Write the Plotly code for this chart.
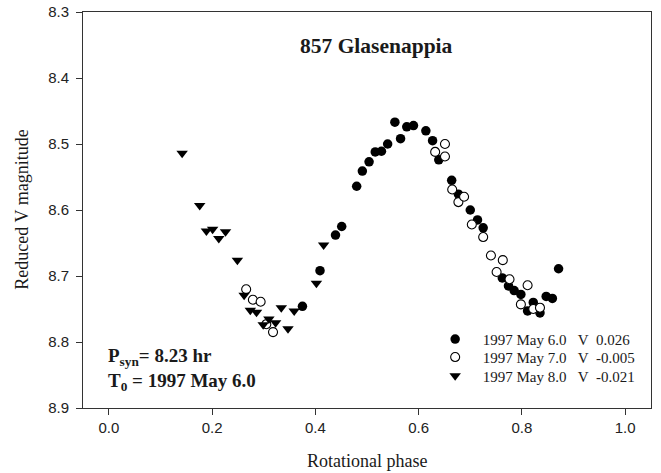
import plotly.graph_objects as go

# May 6.0 (filled circles)
phase_may6 = [0.375, 0.409, 0.439, 0.451, 0.480, 0.491, 0.504, 0.516, 0.528, 0.540,
              0.554, 0.565, 0.577, 0.590, 0.614, 0.627, 0.639, 0.664, 0.677, 0.700,
              0.714, 0.725, 0.762, 0.774, 0.785, 0.798, 0.811, 0.822, 0.835, 0.847,
              0.859, 0.871]
mag_may6 = [8.746, 8.692, 8.638, 8.625, 8.564, 8.541, 8.527, 8.512, 8.511, 8.500,
            8.467, 8.492, 8.474, 8.472, 8.480, 8.495, 8.524, 8.555, 8.576, 8.600,
            8.615, 8.627, 8.703, 8.715, 8.722, 8.728, 8.753, 8.740, 8.756, 8.731,
            8.734, 8.689]

# May 7.0 (open circles)
phase_may7 = [0.266, 0.279, 0.294, 0.305, 0.318, 0.632, 0.651, 0.651, 0.665, 0.677,
              0.688, 0.703, 0.725, 0.740, 0.763, 0.751, 0.776, 0.798, 0.811, 0.822,
              0.835]
mag_may7 = [8.720, 8.736, 8.739, 8.773, 8.785, 8.512, 8.500, 8.519, 8.569, 8.588,
            8.580, 8.622, 8.641, 8.669, 8.676, 8.694, 8.705, 8.743, 8.714, 8.750,
            8.748]

# May 8.0 (filled down triangles)
phase_may8 = [0.142, 0.176, 0.189, 0.201, 0.213, 0.226, 0.249, 0.262, 0.274, 0.286,
              0.299, 0.310, 0.323, 0.334, 0.347, 0.359, 0.402, 0.416]
mag_may8 = [8.514, 8.593, 8.632, 8.629, 8.643, 8.633, 8.676, 8.729, 8.752, 8.755,
            8.774, 8.765, 8.771, 8.748, 8.780, 8.753, 8.711, 8.653]

NB = "\u00a0"
legend_names = ["1997 May 6.0" + NB * 3 + "V" + NB * 2 + "0.026",
                "1997 May 7.0" + NB * 3 + "V" + NB * 2 + "-0.005",
                "1997 May 8.0" + NB * 3 + "V" + NB * 2 + "-0.021"]

x_ticks = [0.0, 0.2, 0.4, 0.6, 0.8, 1.0]
y_ticks = [8.3, 8.4, 8.5, 8.6, 8.7, 8.8, 8.9]

SERIF = "Liberation Serif, Times New Roman, serif"
SANS = "Liberation Sans, Arial, sans-serif"
TXT = "#1a1a1a"
PAD = NB * 2

fig = go.Figure()
fig.add_trace(go.Scatter(x=phase_may6, y=mag_may6, mode="markers", name=PAD + legend_names[0],
                         legend="legend",
                         marker=dict(symbol="circle", size=9.5, color="black", line=dict(width=0))))
fig.add_trace(go.Scatter(x=phase_may7, y=mag_may7, mode="markers", name=PAD + legend_names[1],
                         legend="legend2",
                         marker=dict(symbol="circle", size=9, color="white",
                                     line=dict(width=1.1, color="black"))))
fig.add_trace(go.Scatter(x=phase_may8, y=mag_may8, mode="markers", name=PAD + legend_names[2],
                         legend="legend3",
                         marker=dict(symbol="triangle-down", size=10, color="black", line=dict(width=0))))

axis_common = dict(showgrid=False, zeroline=False, showline=True, linecolor="#333333",
                   linewidth=1, mirror=True, ticks="outside", ticklen=6, tickwidth=1,
                   tickcolor="#333333", automargin=False,
                   tickfont=dict(family=SANS, size=15, color="#222222"))

fig.update_xaxes(range=[-0.05, 1.05], tickvals=x_ticks,
                 ticktext=[f"{v:.1f}" for v in x_ticks], **axis_common)
fig.update_yaxes(range=[8.9, 8.3], tickvals=y_ticks, ticklabelstandoff=4,
                 ticktext=[f"{v:.1f}" for v in y_ticks], **axis_common)

leg_common = dict(x=0.620, xanchor="left", yanchor="middle",
                  font=dict(family=SERIF, size=15, color=TXT),
                  bgcolor="rgba(0,0,0,0)", itemwidth=30)

fig.update_layout(
    width=661, height=473,
    margin=dict(l=83, r=10, t=12, b=65),
    plot_bgcolor="white", paper_bgcolor="white",
    showlegend=True,
    legend=dict(y=0.1735, **leg_common),
    legend2=dict(y=0.128, **leg_common),
    legend3=dict(y=0.0808, **leg_common),
    annotations=[
        dict(text="<b>857 Glasenappia</b>", x=0.516, y=0.915, xref="paper", yref="paper",
             xanchor="center", yanchor="middle",
             showarrow=False, font=dict(family=SERIF, size=21.5, color=TXT)),
        dict(text="<b>P<sub>syn</sub>= 8.23 hr</b>", x=0.040, y=0.128, xref="paper", yref="paper",
             xanchor="left", yanchor="middle", showarrow=False,
             font=dict(family=SERIF, size=19, color=TXT)),
        dict(text="<b>T<sub>0</sub> = 1997 May 6.0</b>", x=0.040, y=0.066, xref="paper", yref="paper",
             xanchor="left", yanchor="middle", showarrow=False,
             font=dict(family=SERIF, size=19, color=TXT)),
        dict(text="Rotational phase", x=0.5, y=-0.134, xref="paper", yref="paper",
             xanchor="center", yanchor="middle",
             showarrow=False, font=dict(family=SERIF, size=18, color=TXT)),
        dict(text="Reduced V magnitude", x=-0.108, y=0.5, xref="paper", yref="paper",
             xanchor="center", yanchor="middle",
             textangle=-90, showarrow=False, font=dict(family=SERIF, size=18, color=TXT)),
    ],
)

fig.write_html("out.html")
